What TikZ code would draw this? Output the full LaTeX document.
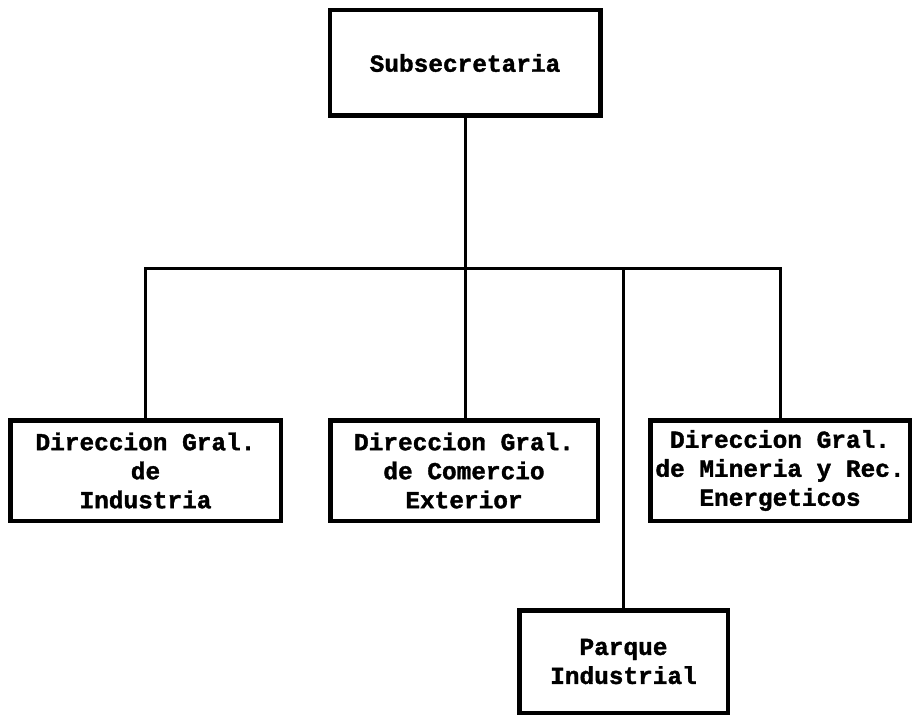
\documentclass[tikz,border=0pt]{standalone}
\usepackage{fontspec}
\setmonofont[BoldFeatures={FakeBold=1.5}]{Liberation Mono}
\usepackage{tikz}

\newcommand{\letra}{\ttfamily\bfseries\fontsize{13.9}{16.5}\selectfont}
\tikzset{
	caja/.style={draw,line width=0.09cm,align=center,inner sep=0pt,font=\letra},
	linea/.style={line width=0.06cm}
}

\begin{document}
\begin{tikzpicture}
	\useasboundingbox (0,0) rectangle (18.4,14.34);
	\node[caja,minimum width=5.41cm,minimum height=2.11cm] (sub) at (9.30,13.08) {Subsecretaria};
	\node[caja,minimum width=5.41cm,minimum height=2.01cm] (ind) at (2.91,4.93) {Direccion Gral.\\de\\Industria};
	\node[caja,minimum width=5.35cm,minimum height=2.01cm] (com) at (9.28,4.93) {Direccion Gral.\\de Comercio\\Exterior};
	\node[caja,minimum width=5.19cm,minimum height=2.01cm] (rec) at (15.60,4.93) {Direccion Gral.\\de Mineria y Rec.\\Energeticos};
	\node[caja,minimum width=4.17cm,minimum height=2.05cm] (par) at (12.47,1.11) {Parque\\Industrial};
	\coordinate (bus) at (9.28,8.98);
	\draw[linea] (sub.south) -- (sub.south |- com.north);
	\draw[linea] (ind.north) |- (bus) -| (rec.north);
	\draw[linea] (par.north) -- (par.north |- bus);
\end{tikzpicture}
\end{document}
